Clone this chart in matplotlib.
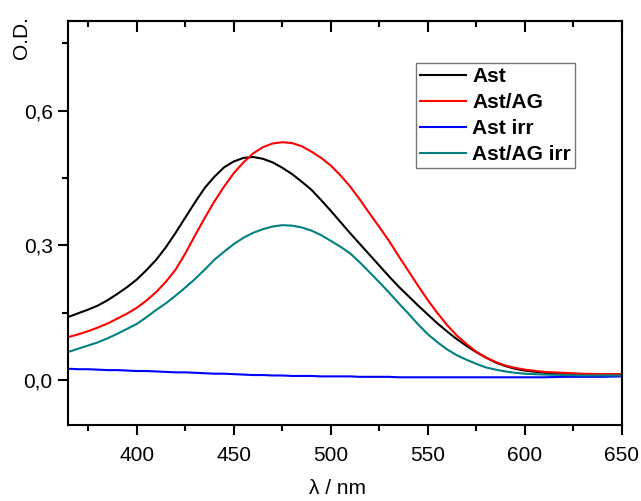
import matplotlib
matplotlib.use("Agg")
import matplotlib.pyplot as plt
from matplotlib.ticker import MultipleLocator, FuncFormatter

plt.rcParams['font.family'] = ['Liberation Sans', 'DejaVu Sans']

# Comprimento de onda (nm)
wl = [365, 370, 375, 380, 385, 390, 395, 400, 405, 410,
      415, 420, 425, 430, 435, 440, 445, 450, 455, 460,
      465, 470, 475, 480, 485, 490, 495, 500, 505, 510,
      515, 520, 525, 530, 535, 540, 545, 550, 555, 560,
      565, 570, 575, 580, 585, 590, 595, 600, 610, 620,
      630, 640, 650]

# Densidade óptica
ast = [0.141, 0.149, 0.157, 0.166, 0.178, 0.192, 0.207, 0.224, 0.245, 0.268,
       0.296, 0.328, 0.362, 0.396, 0.428, 0.453, 0.474, 0.487, 0.495, 0.497,
       0.493, 0.485, 0.473, 0.459, 0.442, 0.424, 0.401, 0.377, 0.352, 0.327,
       0.303, 0.279, 0.255, 0.231, 0.208, 0.187, 0.166, 0.146, 0.126, 0.108,
       0.091, 0.076, 0.062, 0.050, 0.039, 0.031, 0.025, 0.021, 0.016, 0.014,
       0.013, 0.012, 0.012]
ast_ag = [0.096, 0.102, 0.109, 0.117, 0.126, 0.137, 0.148, 0.161, 0.177, 0.196,
          0.219, 0.246, 0.282, 0.322, 0.361, 0.398, 0.431, 0.461, 0.485, 0.505,
          0.519, 0.527, 0.530, 0.528, 0.521, 0.509, 0.495, 0.478, 0.456, 0.431,
          0.402, 0.371, 0.341, 0.310, 0.276, 0.243, 0.210, 0.178, 0.149, 0.122,
          0.099, 0.080, 0.063, 0.050, 0.040, 0.032, 0.027, 0.023, 0.018, 0.016,
          0.014, 0.013, 0.013]
ast_irr = [0.025, 0.024, 0.024, 0.023, 0.022, 0.022, 0.021, 0.020, 0.020, 0.019,
           0.018, 0.017, 0.017, 0.016, 0.015, 0.014, 0.014, 0.013, 0.012, 0.011,
           0.011, 0.010, 0.010, 0.009, 0.009, 0.009, 0.008, 0.008, 0.008, 0.008,
           0.007, 0.007, 0.007, 0.007, 0.006, 0.006, 0.006, 0.006, 0.006, 0.006,
           0.006, 0.006, 0.006, 0.006, 0.006, 0.006, 0.006, 0.006, 0.006, 0.007,
           0.007, 0.007, 0.008]
ast_ag_irr = [0.063, 0.070, 0.077, 0.084, 0.093, 0.103, 0.114, 0.125, 0.140, 0.156,
              0.171, 0.188, 0.206, 0.225, 0.246, 0.268, 0.286, 0.303, 0.317, 0.328,
              0.336, 0.342, 0.345, 0.344, 0.340, 0.333, 0.323, 0.310, 0.297, 0.282,
              0.262, 0.240, 0.218, 0.195, 0.171, 0.148, 0.124, 0.102, 0.084, 0.068,
              0.055, 0.045, 0.036, 0.028, 0.023, 0.019, 0.016, 0.014, 0.012, 0.011,
              0.010, 0.010, 0.010]

series = [('Ast', ast, 'black'),
          ('Ast/AG', ast_ag, '#ff0000'),
          ('Ast irr', ast_irr, '#0000ff'),
          ('Ast/AG irr', ast_ag_irr, '#008080')]

fig = plt.figure(figsize=(6.41, 5.01), dpi=100)
ax = fig.add_axes([0.106, 0.152, 0.864, 0.806])

for label, vals, color in series:
    ax.plot(wl, vals, color=color, lw=1.5, label=label)

ax.set_xlim(364.5, 650)
ax.set_ylim(-0.1, 0.8)

ax.xaxis.set_major_locator(MultipleLocator(50))
ax.xaxis.set_minor_locator(MultipleLocator(25))
ax.yaxis.set_major_locator(MultipleLocator(0.3))
ax.yaxis.set_minor_locator(MultipleLocator(0.15))
ax.yaxis.set_major_formatter(FuncFormatter(lambda v, p: f'{v:.1f}'.replace('.', ',').replace('-0,0', '0,0')))

for s in ax.spines.values():
    s.set_linewidth(1.5)

ax.tick_params(which='major', direction='out', length=7, width=1.5, labelsize=15)
ax.tick_params(which='minor', direction='out', length=4, width=1.5)
ax.tick_params(axis='x', which='major', pad=8)
ax.tick_params(axis='y', which='major', pad=4)
ax.tick_params(right=False, top=False)

# eixo superior com ticks para dentro
top = ax.secondary_xaxis('top')
top.xaxis.set_major_locator(MultipleLocator(50))
top.xaxis.set_minor_locator(MultipleLocator(25))
top.tick_params(which='major', direction='in', length=8, width=1.5, labeltop=False)
top.tick_params(which='minor', direction='in', length=4, width=1.5)
top.spines['top'].set_linewidth(1.5)

fig.text(0.033, 0.926, 'O.D.', rotation=90, ha='center', va='center', fontsize=15)
fig.text(0.526, 0.024, 'λ / nm', ha='center', va='center', fontsize=15)

leg = ax.legend(loc='upper left', bbox_to_anchor=(416 / 641, 1 - 63 / 501),
                bbox_transform=fig.transFigure, prop={'weight': 'bold', 'size': 15},
                frameon=True, fancybox=False, borderaxespad=0, borderpad=0.2,
                handlelength=2.2, handletextpad=0.3, labelspacing=0.33)
leg.get_frame().set_edgecolor('#555555')
leg.get_frame().set_linewidth(1.0)

fig.savefig('out.png', dpi=100)
